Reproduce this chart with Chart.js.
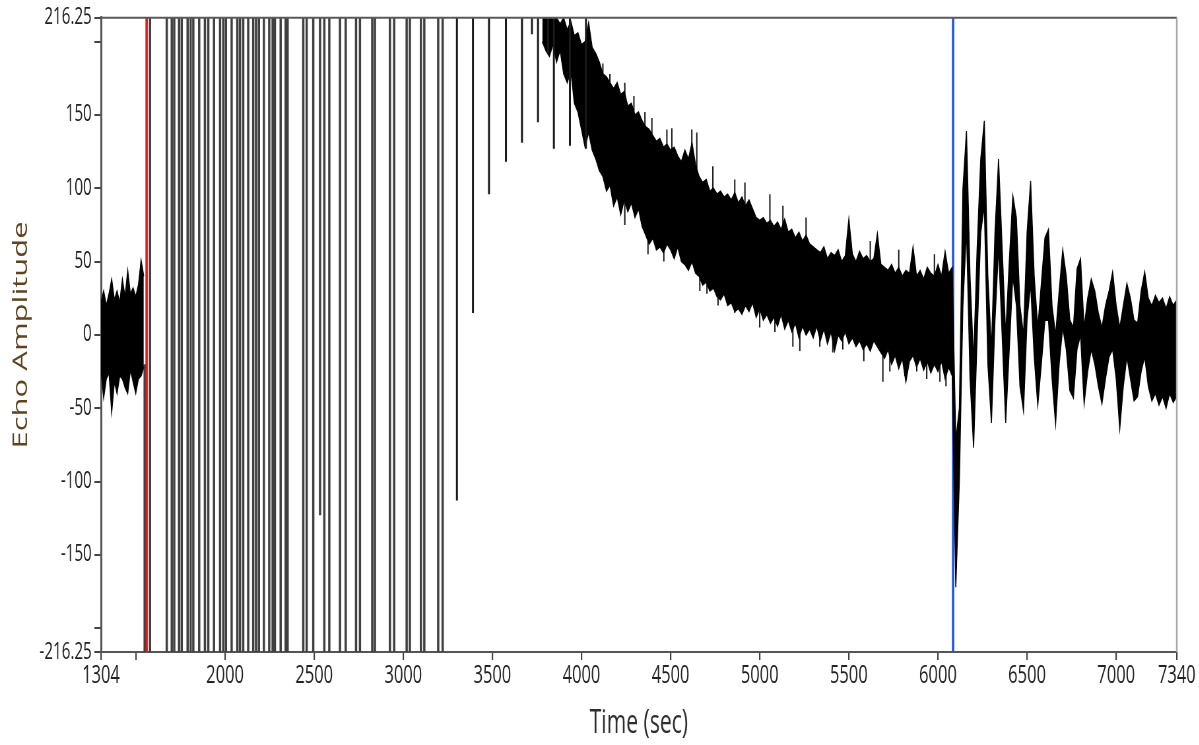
<!DOCTYPE html>
<html>
<head>
<meta charset="utf-8">
<script src="https://cdn.jsdelivr.net/npm/chart.js@4.4.1/dist/chart.umd.min.js"></script>
<style>
  html, body { margin: 0; padding: 0; background: #fff; overflow: hidden; }
  #wrap { width: 1199px; height: 745px; overflow: hidden; }
  /* the reference is a horizontally squeezed screenshot, so draw wide and squeeze */
  #echo { transform: scaleX(0.66); transform-origin: 0 0; }
</style>
</head>
<body>
<div id="wrap"><canvas id="echo" width="1817" height="745"></canvas></div>
<script>
// axes
const xMin = 1304, xMax = 7340;
const yMin = -216.25, yMax = 216.25;
const xTicks = [1304, 1500, 2000, 2500, 3000, 3500, 4000, 4500, 5000, 5500, 6000, 6500, 7000, 7340];
const yTicks = [-216.25, -200, -150, -100, -50, 0, 50, 100, 150, 200, 216.25];

// noise before the red cursor (sampled every 15 s)
const preStart = 1304, preStep = 15;
const preHi = [22, 30, 20, 28, 38, 24, 30, 22, 38, 26, 44, 28, 32, 26, 34, 51, 40];
const preLo = [-24, -43, -30, -26, -53, -32, -40, -28, -30, -36, -40, -24, -32, -40, -30, -28, -22];

// clipped full scale swings (vertical strokes)
const pulseT = [1549, 1579, 1673, 1701, 1715, 1742, 1757, 1790, 1807, 1822, 1855, 1887, 1906, 1938,
  1972, 1990, 2005, 2037, 2069, 2084, 2102, 2130, 2158, 2174, 2190, 2218, 2248, 2267, 2280, 2312,
  2340, 2351, 2439, 2458, 2495, 2533, 2557, 2585, 2645, 2677, 2735, 2757, 2826, 2841, 2925, 2949,
  3019, 3037, 3099, 3118, 3196, 3221];
const pulseHi = [-20, 216.25, 216.25, 216.25, 216.25, 216.25, 216.25, 216.25, 216.25, 216.25, 216.25,
  216.25, 216.25, 216.25, 216.25, 216.25, 216.25, 216.25, 216.25, 216.25, 216.25, 216.25, 216.25,
  216.25, 216.25, 216.25, 216.25, 216.25, 216.25, 216.25, 216.25, 216.25, 216.25, 216.25, 216.25,
  216.25, 216.25, 216.25, 216.25, 216.25, 216.25, 216.25, 216.25, 216.25, 216.25, 216.25, 216.25,
  216.25, 216.25, 216.25, 216.25, 216.25];
const pulseLo = [-216.25, -216.25, -216.25, -216.25, -216.25, -216.25, -216.25, -216.25, -216.25,
  -216.25, -216.25, -216.25, -216.25, -216.25, -216.25, -216.25, -216.25, -216.25, -216.25, -216.25,
  -216.25, -216.25, -216.25, -216.25, -216.25, -216.25, -216.25, -216.25, -216.25, -216.25, -216.25,
  -216.25, -216.25, -216.25, -216.25, -123, -216.25, -216.25, -216.25, -216.25, -216.25, -216.25,
  -216.25, -216.25, -216.25, -216.25, -216.25, -216.25, -216.25, -216.25, -216.25, -216.25];

// dips hanging from the top clip
const spikeT = [3301, 3391, 3481, 3576, 3666, 3722, 3756, 3812, 3845, 3935, 4025];
const spikeLo = [-113, 15, 96, 118, 131, 205, 145, 192, 127, 129, 127];

// decay and echo, envelope of the trace (sampled every 20 s)
const bandStart = 3780, bandStep = 20;
const bandHi = [216.25, 216.25, 216.25, 216.25, 216.25, 212, 216.25, 208, 214, 204,
  206, 198, 200, 213, 196, 192, 186, 178, 176, 172,
  168, 172, 164, 166, 156, 158, 150, 152, 146, 142,
  140, 136, 132, 134, 128, 130, 126, 128, 122, 118,
  126, 120, 131, 116, 108, 104, 106, 98, 100, 96,
  98, 94, 96, 92, 97, 90, 94, 88, 92, 86,
  80, 78, 80, 76, 78, 74, 77, 72, 79, 70,
  72, 66, 70, 64, 68, 62, 60, 58, 56, 60,
  52, 56, 54, 58, 50, 54, 79, 55, 50, 57,
  52, 54, 50, 52, 69, 48, 46, 44, 48, 42,
  46, 40, 44, 42, 60, 40, 44, 38, 46, 42,
  40, 48, 40, 57, 42, 46, -72, -50, 100, 139,
  40, -18, 60, 120, 146, 40, -10, 70, 120, 60,
  0, 50, 95, 80, 20, 0, 70, 105, 40, 5,
  35, 66, 72, 20, 0, 30, 58, 40, 10, 5,
  45, 52, 5, 25, 38, 30, 15, 5, 20, 30,
  43, 20, 5, 20, 35, 25, 10, 8, 30, 43,
  25, 20, 27, 22, 25, 18, 26, 20, 24];
const bandLo = [200, 194, 190, 198, 186, 194, 178, 172, 180, 158,
  152, 140, 128, 138, 126, 120, 112, 108, 98, 102,
  88, 94, 82, 92, 84, 90, 80, 86, 74, 68,
  62, 66, 58, 60, 56, 62, 58, 52, 60, 50,
  48, 44, 50, 42, 40, 34, 36, 30, 32, 26,
  24, 28, 20, 22, 16, 18, 14, 20, 16, 22,
  12, 18, 10, 14, 8, 12, 6, 14, 4, 10,
  2, 8, -2, 6, 0, 4, -2, 6, -4, 4,
  -6, 2, -11, 0, -4, 2, -6, -2, -8, -4,
  -10, -6, -11, -4, -8, -12, -16, -10, -20, -14,
  -23, -16, -32, -18, -14, -22, -16, -24, -18, -26,
  -20, -25, -18, -30, -22, -28, -172, -100, 20, 72,
  -30, -77, 0, 70, 88, -20, -60, 10, 60, 0,
  -60, -10, 40, 20, -35, -52, 10, 35, -15, -48,
  -20, 10, 10, -30, -61, -20, 5, -10, -38, -43,
  -10, 0, -47, -25, -10, -20, -35, -47, -30, -15,
  -10, -30, -64, -35, -15, -30, -45, -42, -25, -15,
  -35, -45, -40, -48, -42, -50, -40, -46, -42];

// single noise spikes sticking out of the decaying band
const burstT = [4120, 4159, 4243, 4294, 4356, 4373, 4395, 4462, 4479, 4507, 4619, 4647, 4664, 4704,
  4737, 4766, 4860, 4917, 5000, 5057, 5085, 5130, 5186, 5225, 5260, 5337, 5410, 5466, 5584, 5620,
  5691, 5730, 5780, 5814, 5881, 5937, 5980, 6011, 6045];
const burstHi = [185, 178, 172, 163, 152, 120, 148, 100, 140, 141, 140, 138, 80, 70,
  115, 60, 106, 104, 45, 96, 40, 88, 40, 40, 80, 30, 30, 30, 25, 64,
  20, 20, 58, 15, 15, 15, 55, 15, 15];
const burstLo = [140, 130, 75, 110, 100, 55, 100, 50, 90, 90, 80, 80, 30, 28,
  60, 20, 15, 50, 5, 40, 2, 40, -8, -11, 30, -8, -12, -10, -18, 20,
  -32, -25, 10, -28, -25, -30, 10, -32, -35];

// cursors
const cursorT = [1560, 6085];
const cursorColor = ['#f01414', '#1a55e6'];

// helpers
const sampled = (start, step, vals) => vals.map((v, i) => ({ x: start + i * step, y: v }));
const strokes = (ts, his, los) => {
  const pts = [];
  ts.forEach((t, i) => pts.push({ x: t, y: his[i] }, { x: t, y: los[i] }, { x: t, y: null }));
  return pts;
};

const trace = { pointRadius: 0, tension: 0, spanGaps: false };

const datasets = [
  { ...trace, data: sampled(preStart, preStep, preHi), borderColor: '#000', borderWidth: 1.5, fill: false },
  { ...trace, data: sampled(preStart, preStep, preLo), borderColor: '#000', borderWidth: 1.5,
    backgroundColor: '#000', fill: '-1' },
  { ...trace, data: strokes(pulseT, pulseHi, pulseLo), borderColor: '#404040', borderWidth: 3.5 },
  { ...trace, data: strokes(spikeT, spikeT.map(() => yMax), spikeLo), borderColor: '#1a1a1a', borderWidth: 3 },
  { ...trace, data: sampled(bandStart, bandStep, bandHi), borderColor: '#000', borderWidth: 1.5, fill: false },
  { ...trace, data: sampled(bandStart, bandStep, bandLo), borderColor: '#000', borderWidth: 1.5,
    backgroundColor: '#000', fill: '-1' },
  { ...trace, data: strokes(burstT, burstHi, burstLo), borderColor: '#111', borderWidth: 2 }
];
cursorT.forEach((t, i) => {
  datasets.push({ ...trace, data: [{ x: t, y: yMin }, { x: t, y: yMax }],
    borderColor: cursorColor[i], borderWidth: 3.6 });
});

const frame = {
  id: 'frame',
  afterDatasetsDraw(chart) {
    const { ctx, chartArea: a } = chart;
    ctx.save();
    ctx.lineWidth = 2;
    ctx.strokeStyle = '#5a5a5a';
    ctx.beginPath(); ctx.moveTo(a.left, a.top); ctx.lineTo(a.right, a.top); ctx.stroke();
    ctx.lineWidth = 2.5;
    ctx.strokeStyle = '#a8a8a8';
    ctx.beginPath(); ctx.moveTo(a.right, a.top); ctx.lineTo(a.right, a.bottom); ctx.stroke();
    ctx.restore();
  }
};

const font = "'Open Sans', 'Liberation Sans', sans-serif";

new Chart(document.getElementById('echo'), {
  type: 'line',
  data: { datasets },
  plugins: [frame],
  options: {
    responsive: false,
    devicePixelRatio: 1,
    animation: false,
    events: [],
    layout: { padding: { top: 15, right: 34, bottom: 0, left: 0 } },
    plugins: { legend: { display: false }, tooltip: { enabled: false } },
    scales: {
      x: {
        type: 'linear', min: xMin, max: xMax,
        afterBuildTicks: s => { s.ticks = xTicks.map(value => ({ value })); },
        afterFit: s => { s.height = 93; },
        ticks: { callback: v => (v === 1500 ? '' : String(v)), autoSkip: false, maxRotation: 0,
          padding: 1, color: '#222', font: { family: font, size: 25 } },
        grid: { drawOnChartArea: false, drawTicks: true, tickLength: 8, color: '#444', lineWidth: 2.2 },
        border: { display: true, color: '#555', width: 2 },
        title: { display: true, text: 'Time (sec)', color: '#2e2e2e', padding: { top: 0, bottom: 2 },
          font: { family: font, size: 32 } }
      },
      y: {
        type: 'linear', min: yMin, max: yMax,
        afterBuildTicks: s => { s.ticks = yTicks.map(value => ({ value })); },
        afterFit: s => { s.width = 153; },
        ticks: { callback: v => (Math.abs(v) === 200 ? '' : String(v)), autoSkip: false,
          padding: 4, color: '#222', font: { family: font, size: 23 } },
        grid: { drawOnChartArea: false, drawTicks: true, tickLength: 10, color: '#444', lineWidth: 2 },
        border: { display: true, color: '#555', width: 3 },
        title: { display: true, text: 'Echo Amplitude', color: '#5f421e', padding: { top: 14, bottom: 0 },
          font: { family: font, size: 31 } }
      }
    }
  }
});
</script>
</body>
</html>
